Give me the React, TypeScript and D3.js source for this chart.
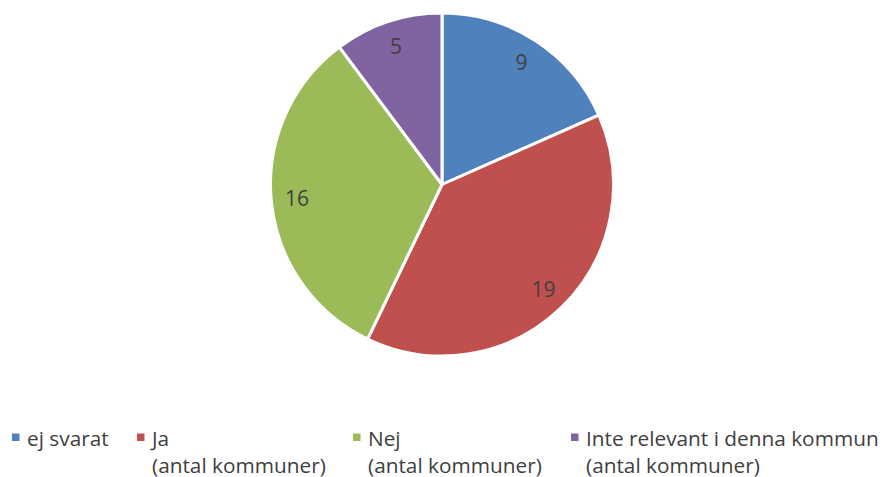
import React from "react";
import * as d3 from "d3";

const categories = ["ej svarat", "Ja\n(antal kommuner)", "Nej\n(antal kommuner)", "Inte relevant i denna kommun\n(antal kommuner)"];
const values = [9, 19, 16, 5];
const colors = ["#4F81BD", "#C0504D", "#9BBB59", "#8064A2"];
const legendX = [12, 137, 353, 571];

export default function App() {
  const W = 886, H = 477;
  const cx = 442, cy = 184.5, r = 171.5;
  const pie = d3.pie<number>().sort(null).value((d) => d);
  const arcs = pie(values);
  const arc = d3.arc<d3.PieArcDatum<number>>().innerRadius(0).outerRadius(r);
  const labelArc = d3.arc<d3.PieArcDatum<number>>().innerRadius(r * 0.85).outerRadius(r * 0.85);
  const font = "'Open Sans', sans-serif";
  return (
    <svg width={W} height={H} style={{ position: "absolute", left: 0, top: 0 }}>
      <rect width={W} height={H} fill="#fff" />
      <g transform={`translate(${cx},${cy})`}>
        {arcs.map((a, i) => (
          <path key={i} d={arc(a) || ""} fill={colors[i]} stroke="#fff" strokeWidth={3} strokeLinejoin="round" />
        ))}
        {arcs.map((a, i) => {
          const [x, y] = labelArc.centroid(a);
          return (
            <text key={i} x={x} y={y} dy="0.36em" textAnchor="middle" fontFamily={font} fontSize={21} fill="#404040">
              {values[i]}
            </text>
          );
        })}
      </g>
      {categories.map((c, i) => {
        const lines = c.split("\n");
        return (
          <g key={i}>
            <rect x={legendX[i]} y={433.5} width={7.5} height={7.5} fill={colors[i]} />
            {lines.map((l, j) => (
              <text key={j} x={legendX[i] + 15} y={445.5 + j * 27} fontFamily={font} fontSize={20.8} fill="#404040">
                {l}
              </text>
            ))}
          </g>
        );
      })}
    </svg>
  );
}
